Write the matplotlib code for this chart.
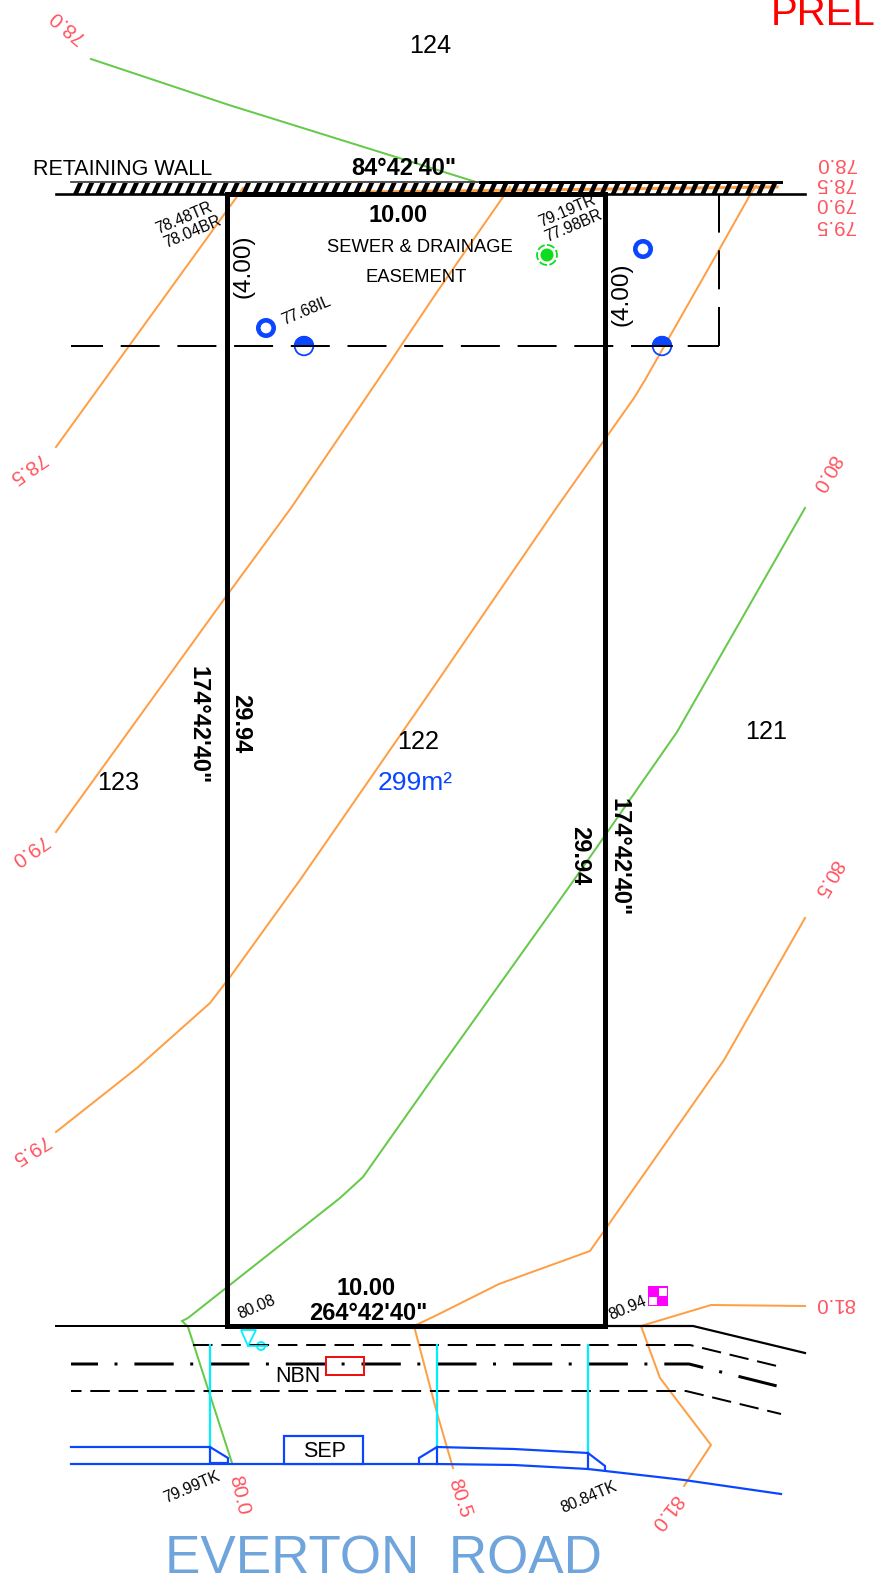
import numpy as np
import matplotlib
matplotlib.use('Agg')
import matplotlib.pyplot as plt
from matplotlib.patches import Circle, Wedge, Rectangle, Polygon

plt.rcParams['font.family'] = ['Liberation Sans', 'DejaVu Sans']
plt.rcParams['lines.scale_dashes'] = False

ORANGE = '#ff9f45'
GREEN = '#66c94a'
RED_TXT = '#ff5560'
BLUE = '#0a46ff'
CYAN = '#00f0ff'

# contours, traced off the plan (pixel positions of the 874x1585 sheet)
c780 = [(91, 59), (229, 105), (476, 182)]
c785 = [(56, 447), (236, 198), (243, 188)]
c790 = [(56, 832), (225, 598), (291, 508), (378, 380), (437, 292), (503, 197), (510, 187)]
c795 = [(56, 1132), (137, 1068), (210, 1003), (230, 977), (300, 880), (437, 682), (557, 507),
        (634, 398), (645, 380), (719, 250), (750, 195), (756, 186)]
c800 = [(805, 508), (677, 732), (574, 880), (437, 1072), (363, 1177), (340, 1198), (188, 1318),
        (182, 1321), (188, 1327), (232, 1463)]
c805 = [(805, 918), (724, 1060), (590, 1251), (499, 1284), (437, 1315), (414, 1326), (437, 1413), (453, 1468)]
c810 = [(805, 1306), (711, 1305), (641, 1326), (660, 1378), (711, 1445), (684, 1486)]
wall_band = [(363, 192), (440, 191), (777, 187)]

# road lines
boundary_left = [(56, 1326), (227, 1326)]
boundary_right = [(605, 1326), (693, 1326), (805, 1353)]
service_top = [(193, 1345), (690, 1345), (781, 1367)]
service_mid = [(71, 1364), (689, 1364), (781, 1387)]
service_low = [(71, 1391), (686, 1391), (781, 1414)]
kerb_left = [(71, 1447), (210, 1447), (228, 1458), (228, 1463), (210, 1463), (210, 1447)]
kerb_right = [(419, 1464), (419, 1458), (437, 1447), (514, 1449), (588, 1453), (605, 1466), (605, 1470)]
kerb_low = [(71, 1464), (437, 1464), (514, 1465), (588, 1469), (684, 1480), (781, 1494)]
cyan_x = [210, 437, 588]
cyan_end = [1448, 1448, 1453]

# contour labels: text, x, y, rotation
contour_labels = [
    ('78.0', 67, 26, 140), ('78.5', 27, 468, 215), ('79.0', 29, 850, 215), ('79.5', 30, 1149, 212),
    ('80.0', 826, 473, 240), ('80.5', 828, 878, 240), ('81.0', 835, 1304, 180),
    ('78.0', 836, 163, 180), ('78.5', 835, 184, 180), ('79.0', 835, 204, 180), ('79.5', 835, 225, 180),
    ('80.0', 239, 1495, -77), ('80.5', 460, 1498, -72), ('81.0', 666, 1512, 232),
]
# small levels: text, x, y
level_labels = [
    ('78.48TR', 158, 234), ('78.04BR', 166, 248), ('79.19TR', 541, 227), ('77.98BR', 547, 242),
    ('77.68IL', 284, 325), ('80.08', 240, 1319), ('80.94', 611, 1320),
    ('79.99TK', 166, 1503), ('80.84TK', 563, 1513),
]
lot_labels = [('124', 430, 53), ('123', 118, 790), ('122', 418, 749), ('121', 766, 739)]
bold_labels = [('84°42\'40"', 404, 175), ('10.00', 398, 222), ('10.00', 366, 1295), ('264°42\'40"', 368, 1320)]
side_labels = [('29.94', 241, 724), ('29.94', 580, 856), ('174°42\'40"', 198, 725), ('174°42\'40"', 619, 857)]
ring_pits = [(266, 328), (643, 249)]
half_pits = [(304, 346), (662, 346)]

fig = plt.figure(figsize=(8.74, 15.85), dpi=100)
ax = fig.add_axes([0, 0, 1, 1])
ax.set_xlim(0, 874)
ax.set_ylim(1585, 0)
ax.axis('off')


def px(v):
    return v * 0.72


def draw(pts, color='k', lw=1.5, **kw):
    xs, ys = zip(*pts)
    ax.plot(xs, ys, color=color, lw=px(lw), solid_joinstyle='miter', **kw)


def dash(pattern, offset=0):
    return (px(offset), tuple(px(p) for p in pattern))


# contours
for c in (c785, c790, c795, c805, c810):
    draw(c, ORANGE, 2)
for c in (c780, c800):
    draw(c, GREEN, 2)
draw(wall_band, ORANGE, 3)

# retaining wall
draw([(71, 182), (480, 182)], '#444444', 1.8)
draw([(480, 182), (781, 182)], 'k', 3)
for x in np.arange(73, 775, 11.2):
    ax.fill([x, x + 5, x + 10, x + 5], [194, 194, 183, 183], color='k', lw=0, zorder=3)
draw([(56, 194), (805, 194)], 'k', 2.6, zorder=3)

# easement
draw([(71, 346), (719, 346)], 'k', 2, ls=dash((39, 17.7), 7))
draw([(719, 346), (719, 195)], 'k', 2, ls=dash((39, 17.7)))

# lot 122
ax.add_patch(Rectangle((227, 194), 378, 1132, fill=False, ec='k', lw=px(5), joinstyle='miter', zorder=4))

# road
draw(boundary_left, 'k', 2)
draw(boundary_right, 'k', 2.2)
draw(service_top, 'k', 2, ls=dash((19.5, 8.8)))
draw(service_mid, 'k', 3, ls=dash((39.3, 16.5, 3, 16.9), 12.3))
draw(service_low, 'k', 2, ls=dash((19.5, 8.8), 9))
for x, y_end in zip(cyan_x, cyan_end):
    draw([(x, 1345), (x, y_end)], CYAN, 2.2)
draw(kerb_left, BLUE, 2.2)
draw(kerb_right, BLUE, 2.2)
draw(kerb_low, BLUE, 2.2)
draw([(437, 1447), (437, 1464)], BLUE, 2.2)
draw([(588, 1453), (588, 1469)], BLUE, 2.2)

# SEP and NBN pits, valve
ax.add_patch(Rectangle((284, 1436), 79, 28, fc='white', ec=BLUE, lw=px(2.2), zorder=3))
ax.add_patch(Rectangle((326, 1357), 38, 18, fill=False, ec='#ee1111', lw=px(2), zorder=3))
ax.add_patch(Polygon([(241, 1330), (256, 1330), (248, 1346)], closed=True, fill=False, ec=CYAN, lw=px(1.8)))
draw([(248, 1346), (267, 1346)], CYAN, 1.8)
ax.add_patch(Circle((261, 1346), 4, fill=False, ec=CYAN, lw=px(1.8)))

# magenta marker
ax.add_patch(Rectangle((648, 1286), 20, 20, fc='#ff00ff', ec='#ff00ff', lw=0))
ax.add_patch(Rectangle((659, 1288), 8, 8, fc='white', lw=0))
ax.add_patch(Rectangle((649, 1297), 8, 8, fc='white', lw=0))

# pits
for cx, cy in ring_pits:
    ax.add_patch(Circle((cx, cy), 7.7, fc='white', ec=BLUE, lw=px(4.6), zorder=5))
for cx, cy in half_pits:
    ax.add_patch(Wedge((cx, cy), 10, 180, 360, fc=BLUE, lw=0, zorder=5))
    ax.add_patch(Circle((cx, cy), 9.3, fill=False, ec=BLUE, lw=px(1.8), zorder=5))
    draw([(cx - 10, cy), (cx + 10, cy)], 'k', 1.8, zorder=5)
ax.add_patch(Circle((547, 255), 6.5, fc='#0fdc1e', lw=0, zorder=5))
ax.add_patch(Circle((547, 255), 10, fill=False, ec='#0fdc1e', lw=px(1.8), ls=(0, (px(8), px(2.5))), zorder=5))

# text
for s, x, y, rot in contour_labels:
    ax.text(x, y, s, color=RED_TXT, fontsize=14.8, rotation=rot, rotation_mode='anchor',
            ha='center', va='center', zorder=6)
for s, x, y in level_labels:
    ax.text(x, y, s, fontsize=11.3, rotation=23, rotation_mode='anchor', ha='left', va='baseline', zorder=6)
for s, x, y in lot_labels:
    ax.text(x, y, s, fontsize=18.2, ha='center', va='baseline', zorder=6)
for s, x, y in bold_labels:
    ax.text(x, y, s, fontsize=17, fontweight='bold', ha='center', va='baseline', zorder=6)
for s, x, y in side_labels:
    ax.text(x, y, s, fontsize=17, fontweight='bold', rotation=-90, rotation_mode='anchor',
            ha='center', va='center', zorder=6)
ax.text(243, 266, '(4.00)', fontsize=17.5, rotation=90, rotation_mode='anchor', ha='center', va='center', zorder=6)
ax.text(621, 294, '(4.00)', fontsize=17.5, rotation=90, rotation_mode='anchor', ha='center', va='center', zorder=6)
ax.text(33, 175, 'RETAINING WALL', fontsize=15.5, ha='left', va='baseline', zorder=6)
ax.text(420, 252, 'SEWER & DRAINAGE', fontsize=13.2, ha='center', va='baseline', zorder=6)
ax.text(416, 282, 'EASEMENT', fontsize=13.3, ha='center', va='baseline', zorder=6)
ax.text(378, 790, '299m²', color=BLUE, fontsize=19, ha='left', va='baseline', zorder=6)
ax.text(298, 1382, 'NBN', fontsize=15.5, ha='center', va='baseline', zorder=6)
ax.text(325, 1457, 'SEP', fontsize=15.5, ha='center', va='baseline', zorder=6)
ax.text(771, 25, 'PREL', color='#ff0000', fontsize=29, ha='left', va='baseline', clip_on=True, zorder=6)
ax.text(383, 1574, 'EVERTON  ROAD', color='#6fa5dc', fontsize=38.2, ha='center', va='baseline', zorder=6)

fig.savefig('out.png', dpi=100)
